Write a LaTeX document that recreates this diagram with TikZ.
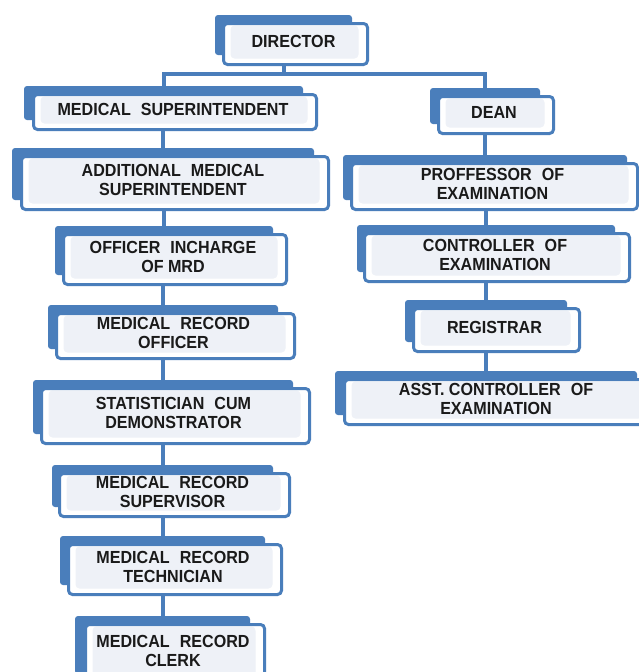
\documentclass[tikz,border=0pt]{standalone}
\usepackage{fontspec}
\setmainfont{Liberation Sans}[FakeStretch=0.92]
\definecolor{boxblue}{HTML}{4A7EBB}
\definecolor{innerfill}{HTML}{EEF1F7}
\definecolor{txt}{HTML}{1A1A1A}
\newcommand\ws{\hspace{10pt}}
\tikzset{
  front/.style={draw=boxblue, line width=3pt, fill=white, rounded corners=4pt,
    inner sep=0pt, anchor=north west,
    path picture={\fill[innerfill] ([xshift=7pt,yshift=-2pt]path picture bounding box.north west)
      rectangle ([xshift=-9pt,yshift=6pt]path picture bounding box.south east);}},
  lbl/.style={inner sep=0pt, align=center, text=txt, font=\fontsize{17.5}{19}\selectfont\bfseries},
  back/.style={fill=boxblue, rounded corners=3pt},
  conn/.style={draw=boxblue, line width=4pt}
}
% #1 name, #2 L, #3 T, #4 R, #5 B, #6 back L, #7 back R, #8 text
\newcommand\orgbox[8]{%
  \pgfmathsetmacro\obw{#4-#2}%
  \pgfmathsetmacro\obh{#5-#3}%
  \pgfmathsetmacro\obt{#3-7}%
  \pgfmathsetmacro\obb{#5-8}%
  \pgfmathsetmacro\obc{(#6+#7)/2}%
  \fill[back] (#6,\obt) rectangle (#7,\obb);
  \coordinate (#1-c) at (\obc,\obt);
  \node[front, minimum width=\obw pt, minimum height=\obh pt] (#1) at (#2,#3) {};
  \node[lbl] (#1-t) at ([xshift=-2pt,yshift=3pt]#1.center) {#8};
}
\begin{document}
\begin{tikzpicture}[x=1pt,y=-1pt]
\useasboundingbox[fill=white] (0,0) rectangle (638,672);
\coordinate (bus) at (0,74);
\orgbox{dir}{222}{22}{366}{63}{215}{352}{DIRECTOR}
\orgbox{ms}{32}{93}{315}{128}{24}{303}{MEDICAL\ws SUPERINTENDENT}
\orgbox{ams}{20}{155}{327}{208}{12}{314}{ADDITIONAL\ws MEDICAL\\SUPERINTENDENT}
\orgbox{oim}{62}{233}{285}{283}{55}{273}{OFFICER\ws INCHARGE\\OF MRD}
\orgbox{mro}{55}{312}{293}{357}{48}{278}{MEDICAL\ws RECORD\\OFFICER}
\orgbox{stat}{40}{387}{308}{442}{33}{293}{STATISTICIAN\ws CUM\\DEMONSTRATOR}
\orgbox{mrs}{58}{472}{288}{515}{52}{273}{MEDICAL\ws RECORD\\SUPERVISOR}
\orgbox{mrt}{67}{543}{280}{593}{60}{265}{MEDICAL\ws RECORD\\TECHNICIAN}
\orgbox{mrc}{84}{623}{263}{682}{75}{250}{MEDICAL\ws RECORD\\CLERK}
\orgbox{dean}{437}{95}{552}{132}{430}{540}{DEAN}
\orgbox{prof}{350}{162}{636}{208}{343}{627}{PROFFESSOR\ws OF\\EXAMINATION}
\orgbox{coe}{363}{232}{628}{280}{357}{615}{CONTROLLER\ws OF\\EXAMINATION}
\orgbox{reg}{412}{307}{578}{350}{405}{567}{REGISTRAR}
\orgbox{asst}{343}{378}{650}{423}{335}{637}{ASST. CONTROLLER\ws OF\\EXAMINATION}
% connectors
\draw[conn] (dir-c |- dir.south) -- (dir-c |- bus);
\draw[conn] (ms-c) -- (ms-c |- bus) -- (dean-c |- bus) -- (dean-c);
\draw[conn] (ams-c |- ms.south) -- (ams-c);
\draw[conn] (oim-c |- ams.south) -- (oim-c);
\draw[conn] (mro-c |- oim.south) -- (mro-c);
\draw[conn] (stat-c |- mro.south) -- (stat-c);
\draw[conn] (mrs-c |- stat.south) -- (mrs-c);
\draw[conn] (mrt-c |- mrs.south) -- (mrt-c);
\draw[conn] (mrc-c |- mrt.south) -- (mrc-c);
\draw[conn] (prof-c |- dean.south) -- (prof-c);
\draw[conn] (coe-c |- prof.south) -- (coe-c);
\draw[conn] (reg-c |- coe.south) -- (reg-c);
\draw[conn] (asst-c |- reg.south) -- (asst-c);
\end{tikzpicture}
\end{document}
